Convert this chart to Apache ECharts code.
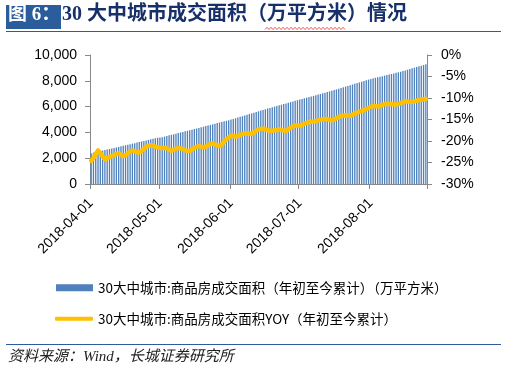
<!DOCTYPE html>
<html>
<head>
<meta charset="utf-8">
<script src="https://cdn.jsdelivr.net/npm/echarts@6/dist/echarts.min.js"></script>
<style>
html,body{margin:0;padding:0;background:#fff;}
#chart{width:508px;height:372px;}
</style>
</head>
<body>
<div id="chart"></div>
<script>
// ---- data ----
const monthSpans = [['2018-04', 30], ['2018-05', 31], ['2018-06', 30], ['2018-07', 31], ['2018-08', 25]];
const categories = [];
monthSpans.forEach(function (m) {
  for (let d = 1; d <= m[1]; d++) categories.push(m[0] + '-' + (d < 10 ? '0' + d : '' + d));
});

const barName = '30大中城市:商品房成交面积（年初至今累计）（万平方米）';
const lineName = '30大中城市:商品房成交面积YOY（年初至今累计）';

const areaYTD = [
  2390, 2428, 2471, 2505, 2552, 2590, 2631, 2668, 2712, 2757,
  2795, 2836, 2875, 2921, 2960, 3003, 3041, 3084, 3126, 3165,
  3211, 3252, 3296, 3340, 3378, 3421, 3468, 3509, 3548, 3580,
  3605, 3632, 3678, 3724, 3771, 3815, 3862, 3903, 3944, 3992,
  4038, 4081, 4125, 4170, 4214, 4255, 4298, 4344, 4400, 4446,
  4490, 4537, 4582, 4629, 4674, 4720, 4766, 4811, 4858, 4903,
  4949, 4995, 5040, 5094, 5149, 5205, 5258, 5312, 5368, 5421,
  5476, 5530, 5586, 5640, 5692, 5745, 5797, 5850, 5899, 5951,
  6000, 6048, 6101, 6150, 6198, 6250, 6301, 6349, 6400, 6452,
  6500, 6550, 6597, 6643, 6691, 6738, 6786, 6832, 6880, 6930,
  6981, 7030, 7079, 7130, 7180, 7229, 7280, 7333, 7388, 7442,
  7497, 7550, 7603, 7658, 7713, 7766, 7820, 7875, 7930, 7985,
  8040, 8090, 8141, 8190, 8233, 8275, 8318, 8361, 8402, 8446,
  8488, 8530, 8573, 8615, 8658, 8700, 8752, 8806, 8858, 8911,
  8964, 9016, 9069, 9122, 9175, 9228, 9281
];

const yoyPct = [
  -24.6, -24.0, -23.0, -22.2, -22.8, -23.6, -24.3, -24.0, -23.7, -23.5,
  -23.3, -23.0, -22.9, -23.2, -23.5, -23.3, -22.9, -22.5, -22.2, -22.4,
  -22.6, -22.7, -22.3, -21.8, -21.4, -21.1, -21.0, -21.1, -21.3, -21.5,
  -21.6, -21.6, -21.6, -21.7, -22.0, -22.3, -22.0, -21.8, -21.6, -21.7,
  -21.9, -22.1, -22.3, -22.3, -22.0, -21.6, -21.3, -21.2, -21.3, -21.5,
  -21.3, -21.0, -20.7, -20.6, -20.8, -21.0, -21.2, -20.8, -20.2, -19.6,
  -19.2, -18.8, -18.8, -19.0, -18.8, -18.6, -18.4, -18.2, -18.2, -18.3,
  -18.4, -18.0, -17.6, -17.3, -17.2, -17.1, -17.3, -17.5, -17.6, -17.6,
  -17.5, -17.5, -17.3, -17.4, -17.6, -17.7, -17.3, -16.9, -16.6, -16.4,
  -16.4, -16.5, -16.3, -16.0, -15.8, -15.6, -15.5, -15.5, -15.4, -15.2,
  -15.1, -15.0, -14.9, -14.9, -15.1, -15.2, -15.0, -14.7, -14.4, -14.2,
  -14.1, -14.0, -14.1, -14.2, -13.9, -13.6, -13.4, -13.2, -13.0, -12.8,
  -12.6, -12.3, -12.0, -11.9, -11.9, -11.9, -11.9, -11.6, -11.4, -11.4,
  -11.4, -11.4, -11.5, -11.5, -11.4, -11.2, -11.0, -10.8, -10.8, -10.9,
  -10.9, -10.8, -10.6, -10.5, -10.4, -10.3, -10.2
];

// ---- chart ----
const chart = echarts.init(document.getElementById('chart'), null, { renderer: 'canvas' });
const axisGray = '#898989';
const isMonthStart = function (idx, val) { return /-01$/.test(categories[idx]); };

// decorative wavy spell-check underline
const wave = [];
for (let x = 265, k = 0; x <= 345; x += 2, k++) wave.push([x, k % 2 ? 27.3 : 29.5]);

const legendText = { fontSize: 13.5, color: '#000', fontFamily: '"Noto Sans CJK SC", sans-serif' };

const option = {
  animation: false,
  backgroundColor: '#ffffff',
  grid: { left: 90, right: 81, top: 55, bottom: 188, containLabel: false },
  legend: [
    {
      data: [{ name: barName, icon: 'rect' }],
      left: 56, top: 281, padding: 0, itemWidth: 37, itemHeight: 7, itemGap: 6,
      textStyle: legendText
    },
    {
      data: [{ name: lineName, icon: 'roundRect' }],
      left: 55, top: 312, padding: 0, itemWidth: 38, itemHeight: 4, itemGap: 6,
      itemStyle: { color: '#FFC000', borderWidth: 0 },
      lineStyle: { width: 0 },
      textStyle: legendText
    }
  ],
  xAxis: {
    type: 'category',
    data: categories,
    boundaryGap: true,
    axisLine: { lineStyle: { color: axisGray, width: 1 } },
    axisTick: { show: true, interval: isMonthStart, length: 5, lineStyle: { color: axisGray } },
    axisLabel: {
      interval: isMonthStart, rotate: 45, margin: 17,
      fontSize: 14, color: '#000', fontFamily: '"Liberation Sans", Arial, sans-serif'
    },
    splitLine: { show: false }
  },
  yAxis: [
    {
      type: 'value', min: 0, max: 10000, interval: 2000,
      axisLine: { show: true, lineStyle: { color: axisGray } },
      axisTick: { show: true, inside: false, length: 5, lineStyle: { color: axisGray } },
      axisLabel: {
        margin: 13, fontSize: 14, color: '#000', fontFamily: '"Liberation Sans", Arial, sans-serif',
        formatter: function (v) { return v.toLocaleString('en-US'); }
      },
      splitLine: { show: false }
    },
    {
      type: 'value', min: -30, max: 0, interval: 5, position: 'right',
      axisLine: { show: true, lineStyle: { color: axisGray } },
      axisTick: { show: true, inside: false, length: 5, lineStyle: { color: axisGray } },
      axisLabel: {
        margin: 14, fontSize: 14, color: '#000', fontFamily: '"Liberation Sans", Arial, sans-serif',
        formatter: '{value}%'
      },
      splitLine: { show: false }
    }
  ],
  series: [
    {
      name: barName, type: 'bar', data: areaYTD, yAxisIndex: 0,
      barCategoryGap: '42%',
      itemStyle: { color: '#4F81BD' }
    },
    {
      name: lineName, type: 'line', data: yoyPct, yAxisIndex: 1,
      symbol: 'none', showSymbol: false, smooth: false,
      lineStyle: { color: '#FFC000', width: 4.5, join: 'round', cap: 'round' },
      itemStyle: { color: '#FFC000' }
    }
  ],
  graphic: [
    { type: 'rect', shape: { x: 6, y: 5, width: 55, height: 24 }, style: { fill: '#2B5C9C' } },
    {
      type: 'text', left: 8, top: 6,
      style: { text: '图 6：', fill: '#fff', font: 'bold 19px "Liberation Serif", "Noto Sans CJK SC", serif' }
    },
    {
      type: 'text', left: 62, top: 5,
      style: { text: '30 大中城市成交面积（万平方米）情况', fill: '#17306A', font: 'bold 20px "Liberation Serif", "Noto Sans CJK SC", serif' }
    },
    { type: 'polyline', shape: { points: wave }, style: { stroke: '#E03030', lineWidth: 0.8, fill: null } },
    { type: 'line', shape: { x1: 6, y1: 31.5, x2: 501, y2: 31.5 }, style: { stroke: '#2B5C9C', lineWidth: 1.2 } },
    { type: 'line', shape: { x1: 6, y1: 344.5, x2: 501, y2: 344.5 }, style: { stroke: '#2B5C9C', lineWidth: 1.2 } },
    {
      type: 'text', left: 8, top: 350,
      style: { text: '资料来源：Wind，长城证券研究所', fill: '#222', font: 'italic 15px "Liberation Serif", "Noto Sans CJK SC", serif' }
    }
  ]
};
chart.setOption(option);
</script>
</body>
</html>
